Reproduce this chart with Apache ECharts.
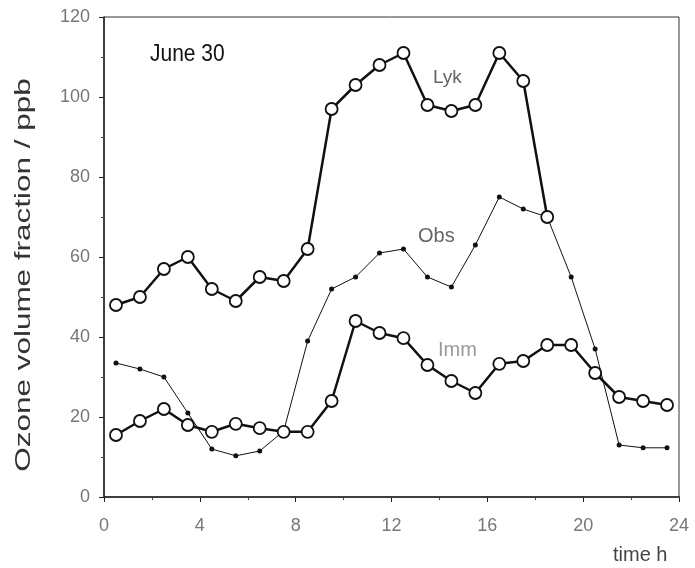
<!DOCTYPE html>
<html>
<head>
<meta charset="utf-8">
<script src="https://cdn.jsdelivr.net/npm/echarts@6/dist/echarts.min.js"></script>
<style>
  html, body { margin: 0; padding: 0; background: #fff; }
  #chart { width: 695px; height: 568px; }
</style>
</head>
<body>
<div id="chart"></div>
<script>
    // hours (mid-hour), ozone in ppb
    var hours = [0.5, 1.5, 2.5, 3.5, 4.5, 5.5, 6.5, 7.5, 8.5, 9.5, 10.5, 11.5,
                 12.5, 13.5, 14.5, 15.5, 16.5, 17.5, 18.5, 19.5, 20.5, 21.5, 22.5, 23.5];
    var lyk = [48, 50, 57, 60, 52, 49, 55, 54, 62, 97, 103, 108,
               111, 98, 96.5, 98, 111, 104, 70, null, null, null, null, null];
    var obs = [33.5, 32, 30, 21, 12, 10.3, 11.5, 16.5, 39, 52, 55, 61,
               62, 55, 52.5, 63, 75, 72, 70, 55, 37, 13, 12.3, 12.3];
    var imm = [15.5, 19, 22, 18, 16.3, 18.3, 17.2, 16.3, 16.3, 24, 44, 41,
               39.7, 33, 29, 26, 33.3, 34, 38, 38, 31, 25, 24, 23];

    function pairs(vals) {
        return hours.map(function (h, i) { return [h, vals[i]]; });
    }

    var font = 'Liberation Sans, Arial, sans-serif';
    var ink = '#111';

    var chart = echarts.init(document.getElementById('chart'));
    chart.setOption({
        animation: false,
        grid: { left: 104, right: 16, top: 17, bottom: 71, show: true, borderColor: '#333', borderWidth: 1 },
        xAxis: {
            type: 'value', min: 0, max: 24, interval: 4,
            axisLine: { lineStyle: { color: '#222', width: 1.5 } },
            axisTick: { show: true, length: 5, lineStyle: { color: '#222' } },
            minorTick: { show: true, splitNumber: 2, length: 3, lineStyle: { color: '#444' } },
            splitLine: { show: false },
            axisLabel: { color: '#777', fontSize: 18, fontFamily: font, margin: 20 }
        },
        yAxis: {
            type: 'value', min: 0, max: 120, interval: 20,
            axisLine: { show: true, lineStyle: { color: '#222', width: 1.5 } },
            axisTick: { show: true, length: 5, lineStyle: { color: '#222' } },
            minorTick: { show: true, splitNumber: 2, length: 3, lineStyle: { color: '#444' } },
            splitLine: { show: false },
            axisLabel: { color: '#777', fontSize: 18, fontFamily: font, margin: 14 }
        },
        series: [
            {
                name: 'Obs', type: 'line', data: pairs(obs), z: 2,
                symbol: 'circle', symbolSize: 5,
                lineStyle: { color: ink, width: 1 },
                itemStyle: { color: ink }
            },
            {
                name: 'Lyk', type: 'line', data: pairs(lyk), z: 3,
                symbol: 'circle', symbolSize: 12, showAllSymbol: true,
                lineStyle: { color: ink, width: 2.5 },
                itemStyle: { color: '#fff', borderColor: ink, borderWidth: 1.8 }
            },
            {
                name: 'Imm', type: 'line', data: pairs(imm), z: 3,
                symbol: 'circle', symbolSize: 12, showAllSymbol: true,
                lineStyle: { color: ink, width: 2.5 },
                itemStyle: { color: '#fff', borderColor: ink, borderWidth: 1.8 }
            }
        ],
        graphic: [
            {
                type: 'text', x: 24, y: 275, rotation: Math.PI / 2, scaleX: 1.43,
                style: {
                    text: 'Ozone volume fraction / ppb', fill: '#333', font: '22px ' + font,
                    align: 'center', verticalAlign: 'middle',
                    textAlign: 'center', textVerticalAlign: 'middle'
                }
            },
            { type: 'text', left: 150, top: 42, scaleY: 1.15, style: { text: 'June 30', fill: '#111', font: '21px ' + font } },
            { type: 'text', left: 433, top: 68, style: { text: 'Lyk', fill: '#666', font: '19px ' + font } },
            { type: 'text', left: 418, top: 226, style: { text: 'Obs', fill: '#666', font: '20px ' + font } },
            { type: 'text', left: 438, top: 340, style: { text: 'Imm', fill: '#999', font: '20px ' + font } },
            { type: 'text', left: 613, top: 545, style: { text: 'time h', fill: '#444', font: '20px ' + font } }
        ]
    });
</script>
</body>
</html>
